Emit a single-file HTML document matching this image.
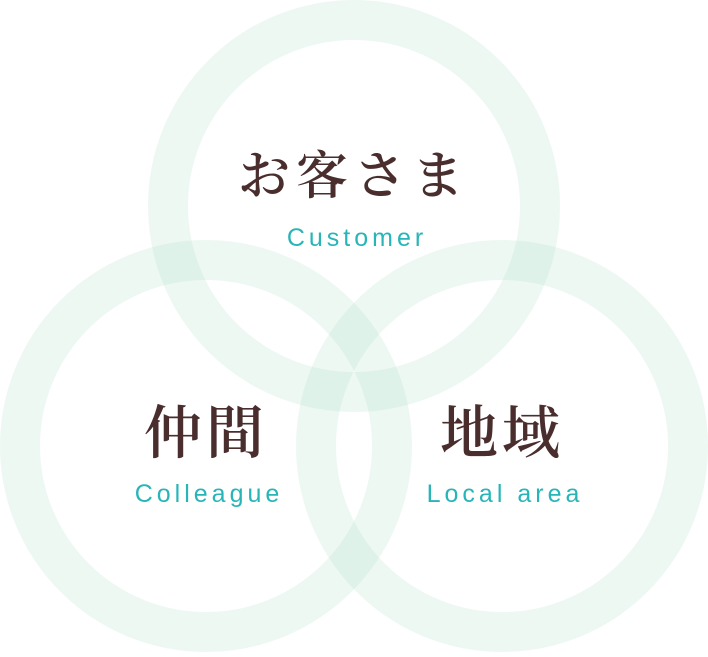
<!DOCTYPE html>
<html><head><meta charset="utf-8"><style>
html,body{margin:0;padding:0;background:#fff;}
body{width:708px;height:652px;overflow:hidden;}
</style></head><body>
<svg width="708" height="652" viewBox="0 0 708 652" xmlns="http://www.w3.org/2000/svg">
<g fill="none" stroke="rgba(170,220,200,0.21)" stroke-width="40">
<circle cx="354" cy="206" r="186"/>
<circle cx="206" cy="446" r="186"/>
<circle cx="502" cy="446" r="186"/>
</g>
<g font-family="'Noto Serif CJK SC','Liberation Serif',serif" fill="#4a2e2e" text-anchor="middle" font-weight="600">
<text x="354" y="194" font-size="52" letter-spacing="6">お客さま</text>
<text x="206" y="453" font-size="58" letter-spacing="4">仲間</text>
<text x="502" y="453" font-size="58" letter-spacing="4">地域</text>
</g>
<g font-family="'Liberation Sans','DejaVu Sans',sans-serif" fill="#27b5b8" text-anchor="middle" font-size="25" letter-spacing="4">
<text x="357" y="246">Customer</text>
<text x="209" y="502">Colleague</text>
<text x="505" y="502">Local area</text>
</g>
</svg>
</body></html>
